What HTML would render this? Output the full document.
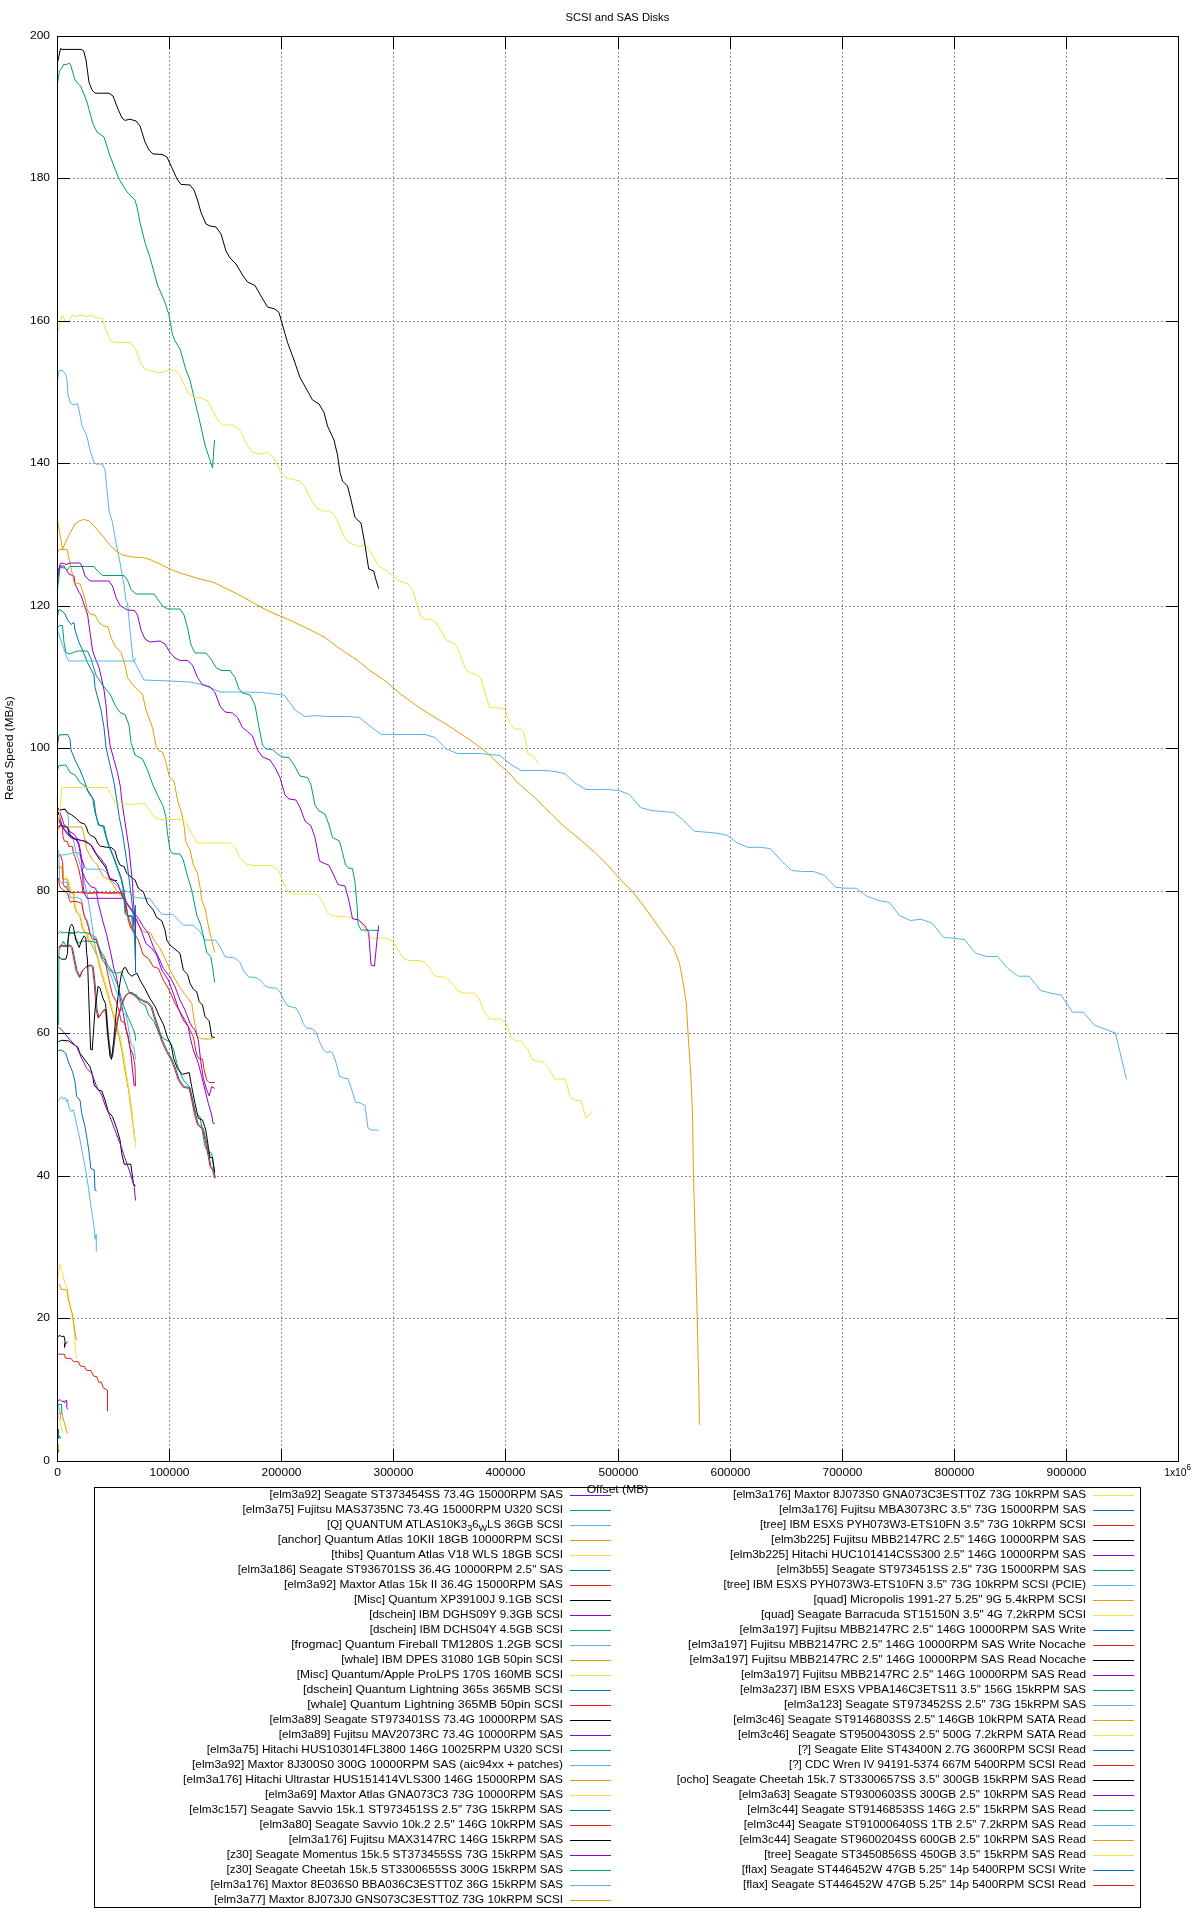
<!DOCTYPE html>
<html lang="en"><head><meta charset="utf-8"><title>SCSI and SAS Disks</title>
<style>html,body{margin:0;padding:0;background:#fff}svg{display:block;will-change:transform}</style></head><body>
<svg width="1200" height="1920" viewBox="0 0 1200 1920" font-family="'Liberation Sans', sans-serif" font-size="11.3" fill="#000">
<rect width="1200" height="1920" fill="#fff"/>
<path d="M169.5 52V1448M281.5 52V1448M393.5 52V1448M505.5 52V1448M618.5 52V1448M730.5 52V1448M842.5 52V1448M954.5 52V1448M1066.5 52V1448M73 1318.5H1165M73 1176.5H1165M73 1033.5H1165M73 891.5H1165M73 748.5H1165M73 606.5H1165M73 463.5H1165M73 321.5H1165M73 178.5H1165" stroke="#8c8c8c" stroke-width="1" stroke-dasharray="2 2" fill="none"/>
<g fill="none" stroke-width="1" stroke-linejoin="round">
<path d="M58 1336.5L60 1335.5L61.5 1336.5L64 1336.2L65 1341L64.5 1347.5L65 1344L67.5 1342" stroke="#000000"/>
<path d="M58 1401L60 1399.5L62 1401.5L63.5 1401L64.5 1403L65.5 1400.5L66.8 1400.5L66.8 1407.5L67.8 1409.5" stroke="#9400d3"/>
<path d="M58 1404.3L61.5 1404.5L61.8 1413L62.8 1414.5" stroke="#009e73"/>
<path d="M58 1405L60 1412L61 1420" stroke="#56b4e9"/>
<path d="M58 1413.5L62 1413.5L63.5 1420L65 1425L66.5 1431L67.8 1433.5" stroke="#e69f00"/>
<path d="M58 1415L60 1422L61.5 1429L62.8 1432.5" stroke="#f0e442"/>
<path d="M58.5 1429L58.5 1438.5L59.5 1436L60.8 1438.5" stroke="#0072b2"/>
<path d="M58.5 1445L58.5 1452.5" stroke="#e51e10"/>
<path d="M58.5 1444L58.5 1450" stroke="#e69f00"/>
<path d="M58.3 1276.7L59.7 1264.2L61.7 1270L65 1283.3L67.5 1290L69.2 1303.3L71.7 1311.7L73 1320L74.5 1335L75.5 1350L76.5 1358.5" stroke="#f0e442"/>
<path d="M58.3 1285L59.7 1284.2L60.8 1289.2L67 1290L68 1298.3L70.8 1308.3L72.5 1315L74 1325L76 1339L77.5 1339.5" stroke="#e69f00"/>
<path d="M107.5 1390.5L107.5 1411.3" stroke="#0072b2"/>
<path d="M58 1354.2L64.5 1354.2L65.5 1358.2L71 1358.5L73.5 1361.5L78.5 1361.8L80.5 1366.2L84.5 1366.5L86.5 1370.3L91 1370.6L93.5 1376L97 1376.8L98.5 1382L101.5 1382.3L103 1387.5L107.5 1390.5L107.5 1410.5" stroke="#e51e10"/>
<path d="M58.3 1100.8L61.7 1096.7L63.3 1099.2L65 1097.5L66.7 1101.7L67.5 1099.2L69.2 1108.3L70.8 1111.3L73.3 1110L75 1116.7L77.5 1128.3L80 1140L82.5 1153.3L85 1166.7L88.3 1186.7L91.7 1211.7L94.2 1227.5L95 1239.2L96.3 1234.2L96.3 1251.7" stroke="#56b4e9"/>
<path d="M58.3 1050.5L61.7 1050L65.8 1053.3L68.3 1061.7L72.5 1071.7L75 1081.7L76.7 1096.7L80 1100L81.7 1113.3L85 1126.7L87.5 1141.7L89.2 1153.3L90.8 1168.3L94.2 1170L95 1190L96.7 1191.3" stroke="#0072b2"/>
<path d="M58.3 1041.7L61.7 1040.3L68.3 1040.8L73.3 1044.2L77.5 1046.7L80 1053.3L85 1060L90 1066.7L92.5 1075L94.2 1085L98.3 1090L101.7 1090.8L105 1100L108.3 1111.7L112.5 1116.7L116.7 1128.3L120 1140L121.7 1153.3L124.2 1164.2L130.8 1164.2L132.5 1176.7L133.3 1183.3L135.5 1186.3" stroke="#000000"/>
<path d="M58.3 1026.7L63.3 1031.7L70 1040L76.7 1046.7L81.7 1058.3L86.7 1068.3L91.7 1073.3L96.7 1086.7L101.7 1095L105 1105L110 1116.7L114.2 1128.3L120 1143.3L125 1158.3L129.2 1170L131.7 1178.3L134.2 1186.7L135.5 1200.5" stroke="#9400d3"/>
<path d="M58 867.5L61.6 867.2L62.3 871.5L62.6 878.2L64.3 879.2L67 879.5L68.3 882.8L69.6 888.8L71 892.8L73.6 894.2L74 900.8L75 908.2L77 912.8L79.6 915.5L81 921.5L82.3 928.2L85 932.8L87 934.8L88.3 940.2L91.6 944.8L94.3 950.2L97 956L101 972L106 988.7L110.5 1005L115.5 1024L119.3 1037L122.5 1055L125.5 1074L128.5 1090L131 1108.3L132.8 1123.3L134.5 1138L135.5 1140" stroke="#e69f00"/>
<path d="M58 866L62.3 865.7L63 870L63.3 876.7L65 877.7L67.7 878L69 881.3L70.3 887.3L71.7 891.3L74.3 892.7L74.7 899.3L75.7 906.7L77.7 911.3L80.3 914L81.7 920L83 926.7L85.7 931.3L87.7 933.3L89 938.7L92.3 943.3L95 948.7L97.7 954.5L101.7 970L106.7 986.7L111.2 1003.7L116.2 1022.5L120 1035L123.3 1053.3L126.7 1075L129.2 1090L131.7 1108.3L133.3 1123.3L135 1140L135.5 1147.5" stroke="#f0e442"/>
<path d="M58.3 812L59.2 815L62.5 827.5L62.9 835.8L64.2 840.8L67.5 841.7L68.7 846.2L72.5 846.7L73.3 853.3L75 856.7L77 863.3L79 870L80.3 876.7L81.7 883.3L82.7 890L83 892.7L86.3 893.3L95 892.7L108.3 893L121.7 892.3L123.3 896.7L128.3 916.7L133.3 931.7L138.3 940L143.3 955L148.3 958.3L153.3 966.7L158.3 968.3L163.3 980L168.3 988.3L175 1003.3L180 1011.7L185 1020L190 1030L193.3 1036.7L196.7 1055L199.2 1058.7L202.5 1059.2L204.2 1070L206.7 1080L209.2 1082.5L214.7 1082.5" stroke="#e51e10"/>
<path d="M58.3 857L59 855.3L61 856L62.7 862.7L63 876.7L63.3 884.7L65 887.3L67 886.3L67.3 890L70.3 892.7L77 892.3L90 893.3L100 892.5L110 893.2L121.7 893L124.3 894L125.7 900.7L127 910L128.3 920.7L131 928.7L135 931.3L135.5 936" stroke="#e51e10"/>
<path d="M58.3 809.6L65 809.6L67.5 813.3L68.7 820L68.3 827.5L70.8 835.8L72.9 837.5L74.2 843.3L75.8 851.7L78.3 858.3L81 868L84 880L87 893L89.5 908L92 925L94.5 942L96.5 955" stroke="#56b4e9"/>
<path d="M58.3 855L67.5 854.6L73.3 852.5L79 853L81.7 860L86.2 869.2L102.5 869.2L105.8 871.7L108.3 875L112.5 881.7L121.7 890L130 892.5L135 897.5L150 898.7L155 905.8L161.7 914.2L173.3 914.7L178.3 920L183.3 925L193.3 925.3L200 931.7L205 940L215.8 940.3L220 946.7L225 956.7L235 958L240 962.5L243.7 971L248.7 977L256 977.5L260.5 980.5L265 985.5L268.7 987.5L276 988L280 992L283.7 1000L288 1006L296 1008L300 1015L303.7 1024.5L307 1028L312.5 1028.7L316 1032.5L320 1043L323.7 1050L327 1052.5L330 1051.5L333 1053.7L336 1062.5L339.5 1076L343.7 1078L348 1078.7L351 1087.5L355.5 1102L360 1103L365 1105.5L368 1128L371 1130L378.7 1130" stroke="#56b4e9"/>
<path d="M58 830L60 827L81.7 827L83.3 831.7L85 840L86.7 849.2L89.2 854.2L92.5 860L97.5 865L100 870.8L103.3 876.7L110 880L118.3 893.3L123.3 897.5L126.7 903.3L133.3 913.3L138.3 925L143.3 931.7L150.8 933.3L155 941.7L160 948.3L165 958.3L170 970L178.3 985L186.7 996.7L191.7 1003.3L194.2 1020L195.8 1028.3L197.5 1036.7L201.7 1038.7L208.3 1039.2L214.7 1037.5" stroke="#e69f00"/>
<path d="M58.3 818L60 822L63.3 827.5L67.5 833.3L71.7 837.5L76.7 839.2L79.2 844.2L80.8 853.3L81.7 858.3L84.2 866.7L81.7 870L85.8 880L90.8 886.7L95.8 888.3L98.3 903.3L102.5 920L106.7 935L110.8 953.3L114.2 970L116.2 975L120 997.5L123.1 1012.5L126.2 1030L128.3 1036.7L130.8 1053.3L132.5 1070L134.2 1085.8L135.8 1085.8" stroke="#9400d3"/>
<path d="M58.3 828L60 825L67.5 827.5L69 834L75 839L84 841L91 845L95 852.5L100 860L104 865L106 868L107.7 872.5L109.8 879L113.3 880.3L117 880.5" stroke="#000000"/>
<path d="M58.3 808L60.8 815L64.2 825L67.5 827.5L70 831.7L74.2 834.2L76.7 838.3L80 840.4L85.8 841.2L91.7 845.4L94.2 850L96.7 854.2L100.8 858.3L103.3 862.5L105.8 865L107.5 871.7L109.6 878.3L113.3 879.6L118 884L121 893L123.3 898.3L128.3 905L133.3 911.7L138.3 918.3L143.3 926.7L148.3 933.3L153.3 946.7L158.3 956.7L163.3 968.3L170 976.7L175 986.7L180 1000L185 1010L190 1023.3L193.3 1028.3L195 1030L198.3 1040L200.8 1061.7L203.3 1078.3L206.7 1090L209.2 1095.8L211.7 1086.7L214.7 1088.3" stroke="#9400d3"/>
<path d="M58.3 820L60 823L63 828L67 833.8L71.2 838L76.2 839.8L78.6 844.6L79.7 850L80.7 856.7L81.7 863.3L82.7 876.7L83.3 886.7L84.3 893.3L87 898.3L124 898.3L128 905L134 914L141.7 931.7L145.8 943.3L151.7 948.3L156.7 955L161.7 970L168.3 980L173.3 993.3L178.3 1008.3L183.3 1020L188.3 1026.7L190 1036.7L193.3 1050L198.3 1063.3L201.7 1076.7L205 1090L208.3 1103.3L211.7 1115L213 1123.3L214.7 1123.3" stroke="#9400d3"/>
<path d="M57.9 815L60 810L65 809L67.5 812.5L71.7 815L76.7 818.7L80 822.5L84.2 823.7L86.2 826.7L88.3 833L90.8 835.4L95 837.5L98.3 844.2L100.4 846.2L106.7 847.3L111.7 847.7L115 850.8L117 858.3L120 865L124.2 866.7L126.7 873.3L130 876.2L135 880L138.3 888.3L143.3 891.7L147.5 903.3L153.3 910L156.7 917.5L161.7 920.8L165 930L166.7 940L170 945L175 949.2L180 953.3L183.3 970L187.5 974.2L190 983.3L193.3 989.2L196.7 991.7L199.2 1001.7L202.5 1005L205 1016.7L209.2 1020.8L211.7 1036.7L214.7 1037.5" stroke="#000000"/>
<path d="M58 934L59 932.7L60.3 931.3L61.7 932.7L77.7 932.3L78.3 931.3L79.7 932.7L86 932.7L90.8 934.2L96.7 940L100 950L105 958.3L107.5 965L113.7 972.5L117.5 973.1L121.2 971.9L125 981.2L128.7 991.2L132.5 995L136.2 994.4L140 1002.5L145 1005L148.7 1015L153.7 1021.2L158.7 1032.5L163.7 1038.7L170 1041.9L173.7 1050L176.9 1063.7L180 1072.5L183.3 1080L189.2 1086.7L192.5 1100L195.8 1113.3L200 1116.7L202.5 1131.7L205 1146.7L208.3 1151.7L211.7 1153.3L213.3 1165L214.7 1171.7" stroke="#009e73"/>
<path d="M58.5 1025L59 950L61.7 944.7L63.3 941.3L65 944.7L67 946L68.3 938.7L69.3 933.3L74.3 933.3L76.3 938.7L78.3 943.3L81.7 941.3L87 941L89.7 941.3L95 942L97.7 943.3L100 950L102.5 960L107.5 967.5L112.5 972.5L117.5 985L121.2 997.5L125 1010L128.7 1018.7L132.5 1027.5L135 1033.7L135.6 1040.6" stroke="#009e73"/>
<path d="M59.1 947.5L60.8 945L65.8 945.9L70 945L72.5 947.5L74.1 955.9L77 970.4L80.2 976.7L82.7 970.4L87 966.1L90.8 964.8L93.3 966.7L95.2 984.2L97 1009.2L98.9 1017.3L102 1012.9L104.5 1009.2L106.4 1010.4L108.3 1034.2L110.8 1054.2L112.7 1056.7L115.2 1036.7L118.3 1017.9L122 1004.2L125.8 995.4L129.5 992.3L132.7 992.7L137 996.7L143.3 1000.4L148.3 1002.3L152 1006.7L154.5 1015.4L158.3 1026.7L162 1039.2L167 1050.4L172 1059.2L175.8 1069.2L179.1 1079.2L184.1 1086.7L190 1087.5L192.5 1099.2L195 1112.5L198.3 1124.2L203.3 1128.4L206.6 1142.5L209.1 1155.9L210.8 1165.9L213.3 1169.2L215.5 1177.5" stroke="#0072b2"/>
<path d="M58.3 948.3L60 945.8L65 946.7L69.2 945.8L71.7 948.3L73.3 956.7L76.2 971.2L79.4 977.5L81.9 971.2L86.2 966.9L90 965.6L92.5 967.5L94.4 985L96.2 1010L98.1 1018.1L101.2 1013.7L103.7 1010L105.6 1011.2L107.5 1035L110 1055L111.9 1057.5L114.4 1037.5L117.5 1018.7L121.2 1005L125 996.2L128.7 993.1L131.9 993.5L136.2 997.5L142.5 1001.2L147.5 1003.1L151.2 1007.5L153.7 1016.2L157.5 1027.5L161.2 1040L166.2 1051.2L171.2 1060L175 1070L178.3 1080L183.3 1087.5L189.2 1088.3L191.7 1100L194.2 1113.3L197.5 1125L202.5 1129.2L205.8 1143.3L208.3 1156.7L210 1166.7L212.5 1170L214.7 1178.3" stroke="#e51e10"/>
<path d="M58.3 956.7L61.7 959.2L65.8 959.2L67.5 953.3L68.3 936.7L70 926.7L71.7 924.2L73.3 926.7L75.8 940L79.2 947.5L81.7 940L84.2 935.8L85.8 938.3L86.7 953.3L87.5 960L90.6 1049.4L92.2 1050L95 1010L98.1 986.2L100 988.1L103.1 998.7L105.6 1003.7L107.5 1030L110 1056.2L111.5 1059.4L113.7 1041.2L116.2 1012.5L118.7 991.2L121.2 975L123.7 968.1L125.6 967.5L128.7 973.7L131.9 976.2L136.9 973.1L140 980L145 988.7L150 998.7L155 1006.2L158.7 1015L163.7 1025L167.5 1037.5L171.2 1045L173.7 1058.7L177.5 1068.7L182.5 1074.4L189.2 1072.5L191.7 1086.7L195 1103.3L198.3 1118.3L202.5 1120L205.8 1130L208.3 1146.7L210 1157.5L212.5 1157.5L214.7 1172.5" stroke="#000000"/>
<path d="M58.5 850L59 856.7L59.3 870L59.7 880.7L61 882.7L63 883L63.3 882L67.3 882.3L68 887.3L69 892.7L70.3 897.3L74.3 898L77.7 897.3L81 899.3L82.3 903.3L83 910L85 916.7L87 920L89 926.7L90.3 933.3L93 936L96.3 937.3L97.3 943.3L99 949.3L101 958L104 962L106.9 965L111.2 976.2L115 987.5L118.7 997.5L122.5 1012.5L126.2 1015L128.7 1030L131.2 1045L133.7 1046.2L135.6 1059.4" stroke="#56b4e9"/>
<path d="M58.5 878L59 882L60 887.3L62.3 889.3L65 891.3L67.7 894L69.3 899.3L70.7 902.3L73 901.3L77 901.7L81.7 903.3L83 910L84.3 916.7L86.3 920.7L88.3 926.7L89.7 933.3L92.3 939.3L96.3 939.7L97 943.3L99 950L102 957L105 960L108.7 978.7L112.5 995L116.2 1001.2L118.7 1010L121.2 1021.2L124.4 1022.5L127.5 1035L130 1047.5L133.1 1055L135 1066.2L135.5 1085.8" stroke="#e51e10"/>
<path d="M57.5 770L59 765.5L66 765L70 772.5L75 775L80 782.5L85 786L90 795L94 800L96 815L98.3 825L103.3 826.7L105.8 836.7L108.3 845L112.5 855L116.7 866.7L120.8 878.3L123.3 890L125 913.3L127.5 916.3L131.7 916.7L133 931.7L135 934.2L135.8 925" stroke="#009e73"/>
<path d="M57.5 745L59 735L67.5 734.5L70 739L71 750L75 760L80 770L84 780L87.5 790L92.5 797.5L95 812.5L99 825L104 826L106.5 837L109 845.5L113.2 855.5L117.4 867L121.5 878.5L124 890L125.7 913L128.2 915.5L132.4 916L133.7 925L135.5 905L135.5 972.5" stroke="#0072b2"/>
<path d="M57.5 618L58.5 610L61 610L65 614L67.5 620L71 624.5L74 622.5L75 630L79 642.5L82.5 650L87.5 662.5L94 675L95 687.5L101 710L104 727.5L106 747.5L110 765L114 782.5L116.7 800L119.2 816.7L122.5 833.3L125 850L127.5 866.7L129.2 880L130.8 893.3L132.5 906.7L133.3 916.7L134.7 941.7L135.3 959" stroke="#0072b2"/>
<path d="M57.5 572L60 566L64 566L69 574L74 576L75 584L79 592.5L81 595L85 607.5L87.5 614L90 632.5L92.5 650L94 655L99 667.5L101 676L104 690L106 705L107.5 725L110 745L114 760L117.5 772.5L120.5 787.5L121.7 800L124.2 816.7L126.7 833.3L129.2 850L130.8 866.7L132.5 883.3L133.3 900L134.7 916.7L135.5 931.7" stroke="#9400d3"/>
<path d="M57.5 631L62.5 645L67.5 659L69 661L134 661L136 658" stroke="#56b4e9"/>
<path d="M57.5 627.5L59.5 625.5L62.5 625.5L64 642.5L66 652.5L69 654L77.5 651L87.5 651L91 659L96 675L102.5 685L110 694L115 705L120 712.5L125 714.5L129 725L131 742.5L135 755L142.5 759L147.5 770L152.5 784L157.5 795L163.3 806.7L165.8 816.7L167.5 833.3L170 850L172.5 853.7L180 854L183.3 860L186.7 873.3L191.7 890L196.7 915L200.8 925L204.2 940L206.7 952.5L210.8 956.7L212.5 966.7L214.7 982.5" stroke="#009e73"/>
<path d="M57.5 552.5L59.5 549.5L67 549.5L71 567.5L74 582.5L80 584L84 595L87.5 610L90 614L95 615L99 622.5L102.5 625.5L108 627L111 637.5L115 646L121 652.5L125 665L127.5 677.5L131 682.5L137.5 690L142.5 694L146 710L152.5 727.5L156 746L159 751L162.5 752L166 762.5L169.5 777.5L174 781L177.5 800L181.7 813.3L184.2 826.7L185.8 841.7L190 850L193.3 865L197.5 873.3L200 886.7L201.7 900L205 908.3L207.5 921.7L210.8 936.7L214.7 952.5" stroke="#e69f00"/>
<path d="M57.5 381L59 370.5L62.5 370.5L65.5 374L67 380L68 395L70.5 403L72.5 404.5L77.5 404L79 410L82 426L86 434L87.5 439L90 450L94 462.5L96 464L102.5 464L105 470L107 490L109 511L112.5 522.5L116 542.5L120 562.5L124 585L126 601L127.5 602.5L129 620L131 640L133 659L134 661L144 680L170 681L190 682L200 684L210 687.5L220 692L240 692L262.5 692.5L280 694.7L284.4 695.2L295 710L305 716.5L316.2 715.6L327.5 716.5L348.7 716.5L359.4 717.5L370 726.2L381.2 734.4L425 734.5L435 737.5L446 748.7L457.5 753.5L480 753.5L500 755.5L511 764.5L521 770.5L545 770.5L555 771.5L565 773.7L575 783L586 789.5L607.5 789.5L618.7 790.5L629.5 794.5L640.5 807.5L651 810.5L673.7 812.5L683.7 820.5L694.5 831.2L717.5 833.2L727.5 835.5L737.5 843.2L748.7 847.5L760 847.2L770.5 848.7L781.2 860.7L791.7 870.5L802.5 871.5L813.7 871.5L824.5 875.5L835.5 887.2L845 888.2L856.2 888.2L867 896.2L878.7 900.5L889.5 902.5L899.5 915.5L910.5 920.5L921.2 919.2L932.5 923.5L943.2 937.2L953.7 938.2L964.5 939.5L975.5 953.2L986.2 956.5L997.5 956.5L1007.5 968.2L1018.2 976.2L1029.2 976.2L1040.5 990.5L1051.2 993.2L1061.2 995.2L1072.5 1012.2L1083.2 1012.2L1094.5 1025.2L1115.5 1033.2L1126.5 1079.5" stroke="#56b4e9"/>
<path d="M57.5 520L62.5 549L69 535L75 524L80 520.5L84 519.5L89 521L95 527L102.5 536L110 545L116 551L122.5 555L132.5 557L142.5 557.5L150 559.5L160 564L170 569L180 573L190 576L200 579L214 582.5L225 588L237.5 594L250 601L262.5 608L275 614L287.5 619L300 625L312.5 631L325 637.5L337.5 647L357.5 660.5L370 670.5L387.5 682.5L400 693.7L413.7 703.7L427.5 713L447.5 725L470 740L485 751L500 765L511 775L517.5 782.5L537.5 800L543.7 807L550 812.5L562.5 825L580 839.5L595 852.5L607.5 865L618.7 877.5L633.7 893L648 912L673.5 947.7L679.4 963L683 982L686.4 1004L688 1033L690.5 1069.7L692.5 1113.4L693.4 1171.8L695.4 1244.7L697.2 1317.7L698.6 1376L699.5 1424.8" stroke="#e69f00"/>
<path d="M57.5 832L62 787.5L107 787.5L116 804L125 804L135 804.5L144 803L149 809L154 817L160 819.5L180 819.5L186 822.5L191 832.5L197.5 843L230 843L235 847.5L240 857.5L246 864L252.5 865.5L272.5 865.5L278.7 871L283.7 883.7L288.7 892.5L293.7 894L316 894L322.5 900.7L327.5 912.5L332.5 916L345 916.5L358.7 919.5L365 930L370 938L385 938L392.5 940.7L398.7 951L403.7 958.7L408.7 960.5L420 960.5L425 962.5L430 969L435 976L446 977.5L452.5 983.7L458 991L463.7 993L473.7 993L478.7 997.5L483.7 1010.5L489.5 1019L500 1019L506 1023L511 1037L516 1041L521 1041L527.5 1048.7L532.5 1060L542.5 1062L548.7 1067.5L554.5 1079L565 1079L570.5 1097.5L575 1100L581 1101L586 1118L592.5 1111" stroke="#f0e442"/>
<path d="M57.5 590L60 567.5L65 568L67 570L70 566.5L94 566.5L97.5 571L102.5 575.5L124 575.5L127.5 580L131 589.5L136 594L154 594L157.5 599L162.5 606L167.5 609L180 609L184 615L187.5 627.5L191 645L195 653L206 653L211 659L216 667.5L221 670.5L230 670.5L235 677.5L239 689L242.5 693L250 695L255 705L259 727.5L262.5 745L266 749L272.5 749.5L277.5 754L282.5 757L289 757.5L294 765L300 776L307.5 777.5L311 785L315 805L319 811L325 814L329 825L332.5 837.5L339.5 841L342.5 852.5L345.5 865L348.7 868L352.5 868.7L355 882.5L357 905L358 923.7L361 930L378.7 930.5" stroke="#009e73"/>
<path d="M57.5 580L60 564L62.5 563L66 564.5L70 563L80 563L82 566L85 576L90 581L109 581L112.5 586L116 597.5L120 605.5L127.5 610L134.5 610.5L137.5 615L141 630L145 639L150 642L160 641L165 644L170 652.5L175 658L180 660.5L187.5 660.5L192.5 665L197.5 677.5L202.5 684.5L210 687L215 692.5L220 706L225 712L232.5 713L237.5 717.5L242.5 727.5L247.5 731.5L252.5 736L257.5 750L262.5 757L270 760L275 767.5L280 777.5L285 795L289 799L296 800L300 807.5L305 821L311 826L315 837.5L319.5 861L325 863.7L328.7 865L333.7 875L338 884.5L345 886L348.7 900L352.5 918.7L358.7 920L365 926L368.7 932.5L371 965L374.5 966L377 940L378.7 925.5" stroke="#9400d3"/>
<path d="M57.6 83L59.4 71L62 68L63.6 64.4L67 64.4L69 63L70.6 65L75 80L81 87L87 102L93 124L97 132L104 137L110 156L119 179L127 192L135 200L137.5 209L140 222.5L145 242.5L150 257.5L157.5 285L165 302.5L169 315L172.5 335L175 341L180 349L186 370L190 380L194 397.5L200 422.5L205 445L212.5 468L214.5 440" stroke="#009e73"/>
<path d="M57.5 332.5L62 315.5L67.5 323L72.5 315L76 316.5L81 315L86 316.5L91 315L96 318L102 318L106 330L110.5 341L115 342.5L130 342.5L135.5 349L140.5 362.5L144.5 369L152.5 371L159.5 373L170 370L175 371L179 374L184 384L189 394L194 397.5L201 398L208 401L212.5 410L217.5 420L222.5 425L232.5 425L238 428L242.5 435L247.5 446L252.5 452L261 454L267.5 452.5L272.5 456L277.5 465L281 472.5L286 478L300 481L305 487L311 500L316 507.5L322.5 511L329.5 511L334.5 515L340 527.5L345 538.7L350 543L358.7 546.7L364.5 545L368.7 548.7L373.7 557.5L378.7 566L387.5 571L397.5 580L407.5 583.7L412.5 590L417.5 606L421 617L426 619.5L431 619L436 622.5L441 631L446 640L455 644L460 653.7L465 668L470 673L476 674.5L480.5 677.5L485 692.5L489.5 707.5L500 708L505 709.5L509.5 722.5L514.5 729L520 729L523.7 732L526 742.5L528 754L533 755.7L538.7 763.7" stroke="#f0e442"/>
<path d="M57.6 62L60.6 48.4L62 49.4L81 49.4L83.6 50.8L86 60L89 82.4L92 90L95 93.2L109 93.2L113 96L118 109L122 118L125 120.4L130 119.2L136 121L140 126L145 142L149 150L153 154L162 154.4L167 157L172 168L177 179L181 184.4L190 185L194 190L197.5 200L201 212.5L206 224L210 226L216 227L221 234L226 251L230 258L236 264L242.5 275L247.5 282L255 285.5L261 296L267.5 307L275 309L279 312.5L282.5 325L287.5 342.5L294 360L300 377.5L307.5 391L312.5 400L319 404L324 412.5L327.5 426L334 440L337.5 455L340 472.5L342.5 481L347.5 486L351 500L355 517.5L361 523L365 545L368.7 569L373.7 571L376 580L378.7 588.7" stroke="#000000"/>
</g>
<path d="M57.5 1461.5v-12.8M57.5 36.5v12.8M57.5 1461.5h12.8M1178.5 1461.5h-12.8M169.5 1461.5v-12.8M169.5 36.5v12.8M57.5 1318.5h12.8M1178.5 1318.5h-12.8M281.5 1461.5v-12.8M281.5 36.5v12.8M57.5 1176.5h12.8M1178.5 1176.5h-12.8M393.5 1461.5v-12.8M393.5 36.5v12.8M57.5 1033.5h12.8M1178.5 1033.5h-12.8M505.5 1461.5v-12.8M505.5 36.5v12.8M57.5 891.5h12.8M1178.5 891.5h-12.8M618.5 1461.5v-12.8M618.5 36.5v12.8M57.5 748.5h12.8M1178.5 748.5h-12.8M730.5 1461.5v-12.8M730.5 36.5v12.8M57.5 606.5h12.8M1178.5 606.5h-12.8M842.5 1461.5v-12.8M842.5 36.5v12.8M57.5 463.5h12.8M1178.5 463.5h-12.8M954.5 1461.5v-12.8M954.5 36.5v12.8M57.5 321.5h12.8M1178.5 321.5h-12.8M1066.5 1461.5v-12.8M1066.5 36.5v12.8M57.5 178.5h12.8M1178.5 178.5h-12.8M1178.5 1461.5v-12.8M1178.5 36.5v12.8M57.5 36.5h12.8M1178.5 36.5h-12.8" stroke="#000" stroke-width="1" fill="none"/>
<rect x="57.5" y="36.5" width="1121.0" height="1425.0" fill="none" stroke="#000" stroke-width="1"/>
<text x="50" y="1463.8" text-anchor="end" textLength="6.7" lengthAdjust="spacingAndGlyphs">0</text>
<text x="50" y="1320.8" text-anchor="end" textLength="13.3" lengthAdjust="spacingAndGlyphs">20</text>
<text x="50" y="1178.8" text-anchor="end" textLength="13.3" lengthAdjust="spacingAndGlyphs">40</text>
<text x="50" y="1035.8" text-anchor="end" textLength="13.3" lengthAdjust="spacingAndGlyphs">60</text>
<text x="50" y="893.8" text-anchor="end" textLength="13.3" lengthAdjust="spacingAndGlyphs">80</text>
<text x="50" y="750.8" text-anchor="end" textLength="20.0" lengthAdjust="spacingAndGlyphs">100</text>
<text x="50" y="608.8" text-anchor="end" textLength="20.0" lengthAdjust="spacingAndGlyphs">120</text>
<text x="50" y="465.8" text-anchor="end" textLength="20.0" lengthAdjust="spacingAndGlyphs">140</text>
<text x="50" y="323.8" text-anchor="end" textLength="20.0" lengthAdjust="spacingAndGlyphs">160</text>
<text x="50" y="180.8" text-anchor="end" textLength="20.0" lengthAdjust="spacingAndGlyphs">180</text>
<text x="50" y="38.8" text-anchor="end" textLength="20.0" lengthAdjust="spacingAndGlyphs">200</text>
<text x="57.5" y="1475.5" text-anchor="middle" textLength="6.7" lengthAdjust="spacingAndGlyphs">0</text>
<text x="169.5" y="1475.5" text-anchor="middle" textLength="40.0" lengthAdjust="spacingAndGlyphs">100000</text>
<text x="281.5" y="1475.5" text-anchor="middle" textLength="40.0" lengthAdjust="spacingAndGlyphs">200000</text>
<text x="393.5" y="1475.5" text-anchor="middle" textLength="40.0" lengthAdjust="spacingAndGlyphs">300000</text>
<text x="505.5" y="1475.5" text-anchor="middle" textLength="40.0" lengthAdjust="spacingAndGlyphs">400000</text>
<text x="618.5" y="1475.5" text-anchor="middle" textLength="40.0" lengthAdjust="spacingAndGlyphs">500000</text>
<text x="730.5" y="1475.5" text-anchor="middle" textLength="40.0" lengthAdjust="spacingAndGlyphs">600000</text>
<text x="842.5" y="1475.5" text-anchor="middle" textLength="40.0" lengthAdjust="spacingAndGlyphs">700000</text>
<text x="954.5" y="1475.5" text-anchor="middle" textLength="40.0" lengthAdjust="spacingAndGlyphs">800000</text>
<text x="1066.5" y="1475.5" text-anchor="middle" textLength="40.0" lengthAdjust="spacingAndGlyphs">900000</text>
<text x="1164.2" y="1475.5" textLength="27" lengthAdjust="spacingAndGlyphs">1x10<tspan font-size="9" dy="-6">6</tspan></text>
<text x="617.4" y="20.7" text-anchor="middle" textLength="103.7" lengthAdjust="spacingAndGlyphs">SCSI and SAS Disks</text>
<text x="617.5" y="1493.3" text-anchor="middle" textLength="61.7" lengthAdjust="spacingAndGlyphs">Offset (MB)</text>
<text transform="translate(13.1,748.2) rotate(-90)" text-anchor="middle" textLength="103.6" lengthAdjust="spacingAndGlyphs">Read Speed (MB/s)</text>
<rect x="94.5" y="1487.5" width="1046" height="420" fill="none" stroke="#000" stroke-width="1"/>
<text x="563" y="1497.5" text-anchor="end" textLength="293.5" lengthAdjust="spacingAndGlyphs">[elm3a92] Seagate ST373454SS 73.4G 15000RPM SAS</text>
<path d="M570 1495.5H611" stroke="#9400d3" stroke-width="1" fill="none"/>
<text x="563" y="1512.5" text-anchor="end" textLength="320.5" lengthAdjust="spacingAndGlyphs">[elm3a75] Fujitsu MAS3735NC 73.4G 15000RPM U320 SCSI</text>
<path d="M570 1510.5H611" stroke="#009e73" stroke-width="1" fill="none"/>
<text x="563" y="1527.5" text-anchor="end" textLength="236" lengthAdjust="spacingAndGlyphs">[Q] QUANTUM ATLAS10K3<tspan font-size="9" dy="3">3</tspan><tspan dy="-3">6</tspan><tspan font-size="9" dy="3">W</tspan><tspan dy="-3">LS 36GB SCSI</tspan></text>
<path d="M570 1525.5H611" stroke="#56b4e9" stroke-width="1" fill="none"/>
<text x="563" y="1542.5" text-anchor="end" textLength="285.2" lengthAdjust="spacingAndGlyphs">[anchor] Quantum Atlas 10KII 18GB 10000RPM SCSI</text>
<path d="M570 1540.5H611" stroke="#e69f00" stroke-width="1" fill="none"/>
<text x="563" y="1557.5" text-anchor="end" textLength="231.7" lengthAdjust="spacingAndGlyphs">[thibs] Quantum Atlas V18 WLS 18GB SCSI</text>
<path d="M570 1555.5H611" stroke="#f0e442" stroke-width="1" fill="none"/>
<text x="563" y="1572.5" text-anchor="end" textLength="325.2" lengthAdjust="spacingAndGlyphs">[elm3a186] Seagate ST936701SS 36.4G 10000RPM 2.5&quot; SAS</text>
<path d="M570 1570.5H611" stroke="#0072b2" stroke-width="1" fill="none"/>
<text x="563" y="1587.5" text-anchor="end" textLength="279.1" lengthAdjust="spacingAndGlyphs">[elm3a92] Maxtor Atlas 15k II 36.4G 15000RPM SAS</text>
<path d="M570 1585.5H611" stroke="#e51e10" stroke-width="1" fill="none"/>
<text x="563" y="1602.5" text-anchor="end" textLength="209.0" lengthAdjust="spacingAndGlyphs">[Misc] Quantum XP39100J 9.1GB SCSI</text>
<path d="M570 1600.5H611" stroke="#000000" stroke-width="1" fill="none"/>
<text x="563" y="1617.5" text-anchor="end" textLength="193.8" lengthAdjust="spacingAndGlyphs">[dschein] IBM DGHS09Y 9.3GB SCSI</text>
<path d="M570 1615.5H611" stroke="#9400d3" stroke-width="1" fill="none"/>
<text x="563" y="1632.5" text-anchor="end" textLength="193.2" lengthAdjust="spacingAndGlyphs">[dschein] IBM DCHS04Y 4.5GB SCSI</text>
<path d="M570 1630.5H611" stroke="#009e73" stroke-width="1" fill="none"/>
<text x="563" y="1647.5" text-anchor="end" textLength="271.8" lengthAdjust="spacingAndGlyphs">[frogmac] Quantum Fireball TM1280S 1.2GB SCSI</text>
<path d="M570 1645.5H611" stroke="#56b4e9" stroke-width="1" fill="none"/>
<text x="563" y="1662.5" text-anchor="end" textLength="221.8" lengthAdjust="spacingAndGlyphs">[whale] IBM DPES 31080 1GB 50pin SCSI</text>
<path d="M570 1660.5H611" stroke="#e69f00" stroke-width="1" fill="none"/>
<text x="563" y="1677.5" text-anchor="end" textLength="266.3" lengthAdjust="spacingAndGlyphs">[Misc] Quantum/Apple ProLPS 170S 160MB SCSI</text>
<path d="M570 1675.5H611" stroke="#f0e442" stroke-width="1" fill="none"/>
<text x="563" y="1692.5" text-anchor="end" textLength="259.9" lengthAdjust="spacingAndGlyphs">[dschein] Quantum Lightning 365s 365MB SCSI</text>
<path d="M570 1690.5H611" stroke="#0072b2" stroke-width="1" fill="none"/>
<text x="563" y="1707.5" text-anchor="end" textLength="255.7" lengthAdjust="spacingAndGlyphs">[whale] Quantum Lightning 365MB 50pin SCSI</text>
<path d="M570 1705.5H611" stroke="#e51e10" stroke-width="1" fill="none"/>
<text x="563" y="1722.5" text-anchor="end" textLength="293.5" lengthAdjust="spacingAndGlyphs">[elm3a89] Seagate ST973401SS 73.4G 10000RPM SAS</text>
<path d="M570 1720.5H611" stroke="#000000" stroke-width="1" fill="none"/>
<text x="563" y="1737.5" text-anchor="end" textLength="284.2" lengthAdjust="spacingAndGlyphs">[elm3a89] Fujitsu MAV2073RC 73.4G 10000RPM SAS</text>
<path d="M570 1735.5H611" stroke="#9400d3" stroke-width="1" fill="none"/>
<text x="563" y="1752.5" text-anchor="end" textLength="356.3" lengthAdjust="spacingAndGlyphs">[elm3a75] Hitachi HUS103014FL3800 146G 10025RPM U320 SCSI</text>
<path d="M570 1750.5H611" stroke="#009e73" stroke-width="1" fill="none"/>
<text x="563" y="1767.5" text-anchor="end" textLength="371.0" lengthAdjust="spacingAndGlyphs">[elm3a92] Maxtor 8J300S0 300G 10000RPM SAS (aic94xx + patches)</text>
<path d="M570 1765.5H611" stroke="#56b4e9" stroke-width="1" fill="none"/>
<text x="563" y="1782.5" text-anchor="end" textLength="379.9" lengthAdjust="spacingAndGlyphs">[elm3a176] Hitachi Ultrastar HUS151414VLS300 146G 15000RPM SAS</text>
<path d="M570 1780.5H611" stroke="#e69f00" stroke-width="1" fill="none"/>
<text x="563" y="1797.5" text-anchor="end" textLength="298.0" lengthAdjust="spacingAndGlyphs">[elm3a69] Maxtor Atlas GNA073C3 73G 10000RPM SAS</text>
<path d="M570 1795.5H611" stroke="#f0e442" stroke-width="1" fill="none"/>
<text x="563" y="1812.5" text-anchor="end" textLength="373.7" lengthAdjust="spacingAndGlyphs">[elm3c157] Seagate Savvio 15k.1 ST973451SS 2.5&quot; 73G 15kRPM SAS</text>
<path d="M570 1810.5H611" stroke="#0072b2" stroke-width="1" fill="none"/>
<text x="563" y="1827.5" text-anchor="end" textLength="303.5" lengthAdjust="spacingAndGlyphs">[elm3a80] Seagate Savvio 10k.2 2.5&quot; 146G 10kRPM SAS</text>
<path d="M570 1825.5H611" stroke="#e51e10" stroke-width="1" fill="none"/>
<text x="563" y="1842.5" text-anchor="end" textLength="274.3" lengthAdjust="spacingAndGlyphs">[elm3a176] Fujitsu MAX3147RC 146G 15kRPM SAS</text>
<path d="M570 1840.5H611" stroke="#000000" stroke-width="1" fill="none"/>
<text x="563" y="1857.5" text-anchor="end" textLength="336.3" lengthAdjust="spacingAndGlyphs">[z30] Seagate Momentus 15k.5 ST373455SS 73G 15kRPM SAS</text>
<path d="M570 1855.5H611" stroke="#9400d3" stroke-width="1" fill="none"/>
<text x="563" y="1872.5" text-anchor="end" textLength="336.5" lengthAdjust="spacingAndGlyphs">[z30] Seagate Cheetah 15k.5 ST3300655SS 300G 15kRPM SAS</text>
<path d="M570 1870.5H611" stroke="#009e73" stroke-width="1" fill="none"/>
<text x="563" y="1887.5" text-anchor="end" textLength="352.4" lengthAdjust="spacingAndGlyphs">[elm3a176] Maxtor 8E036S0 BBA036C3ESTT0Z 36G 15kRPM SAS</text>
<path d="M570 1885.5H611" stroke="#56b4e9" stroke-width="1" fill="none"/>
<text x="563" y="1902.5" text-anchor="end" textLength="349.0" lengthAdjust="spacingAndGlyphs">[elm3a77] Maxtor 8J073J0 GNS073C3ESTT0Z 73G 10kRPM SCSI</text>
<path d="M570 1900.5H611" stroke="#e69f00" stroke-width="1" fill="none"/>
<text x="1086" y="1497.5" text-anchor="end" textLength="353.0" lengthAdjust="spacingAndGlyphs">[elm3a176] Maxtor 8J073S0 GNA073C3ESTT0Z 73G 10kRPM SAS</text>
<path d="M1093 1495.5H1134" stroke="#f0e442" stroke-width="1" fill="none"/>
<text x="1086" y="1512.5" text-anchor="end" textLength="307.0" lengthAdjust="spacingAndGlyphs">[elm3a176] Fujitsu MBA3073RC 3.5&quot; 73G 15000RPM SAS</text>
<path d="M1093 1510.5H1134" stroke="#0072b2" stroke-width="1" fill="none"/>
<text x="1086" y="1527.5" text-anchor="end" textLength="325.9" lengthAdjust="spacingAndGlyphs">[tree] IBM ESXS PYH073W3-ETS10FN 3.5&quot; 73G 10kRPM SCSI</text>
<path d="M1093 1525.5H1134" stroke="#e51e10" stroke-width="1" fill="none"/>
<text x="1086" y="1542.5" text-anchor="end" textLength="314.9" lengthAdjust="spacingAndGlyphs">[elm3b225] Fujitsu MBB2147RC 2.5&quot; 146G 10000RPM SAS</text>
<path d="M1093 1540.5H1134" stroke="#000000" stroke-width="1" fill="none"/>
<text x="1086" y="1557.5" text-anchor="end" textLength="356.1" lengthAdjust="spacingAndGlyphs">[elm3b225] Hitachi HUC101414CSS300 2.5&quot; 146G 10000RPM SAS</text>
<path d="M1093 1555.5H1134" stroke="#9400d3" stroke-width="1" fill="none"/>
<text x="1086" y="1572.5" text-anchor="end" textLength="309.2" lengthAdjust="spacingAndGlyphs">[elm3b55] Seagate ST973451SS 2.5&quot; 73G 15000RPM SAS</text>
<path d="M1093 1570.5H1134" stroke="#009e73" stroke-width="1" fill="none"/>
<text x="1086" y="1587.5" text-anchor="end" textLength="362.5" lengthAdjust="spacingAndGlyphs">[tree] IBM ESXS PYH073W3-ETS10FN 3.5&quot; 73G 10kRPM SCSI (PCIE)</text>
<path d="M1093 1585.5H1134" stroke="#56b4e9" stroke-width="1" fill="none"/>
<text x="1086" y="1602.5" text-anchor="end" textLength="272.6" lengthAdjust="spacingAndGlyphs">[quad] Micropolis 1991-27 5.25&quot; 9G 5.4kRPM SCSI</text>
<path d="M1093 1600.5H1134" stroke="#e69f00" stroke-width="1" fill="none"/>
<text x="1086" y="1617.5" text-anchor="end" textLength="325.0" lengthAdjust="spacingAndGlyphs">[quad] Seagate Barracuda ST15150N 3.5&quot; 4G 7.2kRPM SCSI</text>
<path d="M1093 1615.5H1134" stroke="#f0e442" stroke-width="1" fill="none"/>
<text x="1086" y="1632.5" text-anchor="end" textLength="346.5" lengthAdjust="spacingAndGlyphs">[elm3a197] Fujitsu MBB2147RC 2.5&quot; 146G 10000RPM SAS Write</text>
<path d="M1093 1630.5H1134" stroke="#0072b2" stroke-width="1" fill="none"/>
<text x="1086" y="1647.5" text-anchor="end" textLength="397.9" lengthAdjust="spacingAndGlyphs">[elm3a197] Fujitsu MBB2147RC 2.5&quot; 146G 10000RPM SAS Write Nocache</text>
<path d="M1093 1645.5H1134" stroke="#e51e10" stroke-width="1" fill="none"/>
<text x="1086" y="1662.5" text-anchor="end" textLength="396.5" lengthAdjust="spacingAndGlyphs">[elm3a197] Fujitsu MBB2147RC 2.5&quot; 146G 10000RPM SAS Read Nocache</text>
<path d="M1093 1660.5H1134" stroke="#000000" stroke-width="1" fill="none"/>
<text x="1086" y="1677.5" text-anchor="end" textLength="345.1" lengthAdjust="spacingAndGlyphs">[elm3a197] Fujitsu MBB2147RC 2.5&quot; 146G 10000RPM SAS Read</text>
<path d="M1093 1675.5H1134" stroke="#9400d3" stroke-width="1" fill="none"/>
<text x="1086" y="1692.5" text-anchor="end" textLength="346.0" lengthAdjust="spacingAndGlyphs">[elm3a237] IBM ESXS VPBA146C3ETS11 3.5&quot; 156G 15kRPM SAS</text>
<path d="M1093 1690.5H1134" stroke="#009e73" stroke-width="1" fill="none"/>
<text x="1086" y="1707.5" text-anchor="end" textLength="301.9" lengthAdjust="spacingAndGlyphs">[elm3a123] Seagate ST973452SS 2.5&quot; 73G 15kRPM SAS</text>
<path d="M1093 1705.5H1134" stroke="#56b4e9" stroke-width="1" fill="none"/>
<text x="1086" y="1722.5" text-anchor="end" textLength="352.7" lengthAdjust="spacingAndGlyphs">[elm3c46] Seagate ST9146803SS 2.5&quot; 146GB 10kRPM SATA Read</text>
<path d="M1093 1720.5H1134" stroke="#e69f00" stroke-width="1" fill="none"/>
<text x="1086" y="1737.5" text-anchor="end" textLength="348.1" lengthAdjust="spacingAndGlyphs">[elm3c46] Seagate ST9500430SS 2.5&quot; 500G 7.2kRPM SATA Read</text>
<path d="M1093 1735.5H1134" stroke="#f0e442" stroke-width="1" fill="none"/>
<text x="1086" y="1752.5" text-anchor="end" textLength="287.8" lengthAdjust="spacingAndGlyphs">[?] Seagate Elite ST43400N 2.7G 3600RPM SCSI Read</text>
<path d="M1093 1750.5H1134" stroke="#0072b2" stroke-width="1" fill="none"/>
<text x="1086" y="1767.5" text-anchor="end" textLength="297.0" lengthAdjust="spacingAndGlyphs">[?] CDC Wren IV 94191-5374 667M 5400RPM SCSI Read</text>
<path d="M1093 1765.5H1134" stroke="#e51e10" stroke-width="1" fill="none"/>
<text x="1086" y="1782.5" text-anchor="end" textLength="409.2" lengthAdjust="spacingAndGlyphs">[ocho] Seagate Cheetah 15k.7 ST3300657SS 3.5&quot; 300GB 15kRPM SAS Read</text>
<path d="M1093 1780.5H1134" stroke="#000000" stroke-width="1" fill="none"/>
<text x="1086" y="1797.5" text-anchor="end" textLength="347.3" lengthAdjust="spacingAndGlyphs">[elm3a63] Seagate ST9300603SS 300GB 2.5&quot; 10kRPM SAS Read</text>
<path d="M1093 1795.5H1134" stroke="#9400d3" stroke-width="1" fill="none"/>
<text x="1086" y="1812.5" text-anchor="end" textLength="338.8" lengthAdjust="spacingAndGlyphs">[elm3c44] Seagate ST9146853SS 146G 2.5&quot; 15kRPM SAS Read</text>
<path d="M1093 1810.5H1134" stroke="#009e73" stroke-width="1" fill="none"/>
<text x="1086" y="1827.5" text-anchor="end" textLength="342.2" lengthAdjust="spacingAndGlyphs">[elm3c44] Seagate ST91000640SS 1TB 2.5&quot; 7.2kRPM SAS Read</text>
<path d="M1093 1825.5H1134" stroke="#56b4e9" stroke-width="1" fill="none"/>
<text x="1086" y="1842.5" text-anchor="end" textLength="346.6" lengthAdjust="spacingAndGlyphs">[elm3c44] Seagate ST9600204SS 600GB 2.5&quot; 10kRPM SAS Read</text>
<path d="M1093 1840.5H1134" stroke="#e69f00" stroke-width="1" fill="none"/>
<text x="1086" y="1857.5" text-anchor="end" textLength="321.7" lengthAdjust="spacingAndGlyphs">[tree] Seagate ST3450856SS 450GB 3.5&quot; 15kRPM SAS Read</text>
<path d="M1093 1855.5H1134" stroke="#f0e442" stroke-width="1" fill="none"/>
<text x="1086" y="1872.5" text-anchor="end" textLength="344.2" lengthAdjust="spacingAndGlyphs">[flax] Seagate ST446452W 47GB 5.25&quot; 14p 5400RPM SCSI Write</text>
<path d="M1093 1870.5H1134" stroke="#0072b2" stroke-width="1" fill="none"/>
<text x="1086" y="1887.5" text-anchor="end" textLength="342.9" lengthAdjust="spacingAndGlyphs">[flax] Seagate ST446452W 47GB 5.25&quot; 14p 5400RPM SCSI Read</text>
<path d="M1093 1885.5H1134" stroke="#e51e10" stroke-width="1" fill="none"/>
</svg></body></html>
